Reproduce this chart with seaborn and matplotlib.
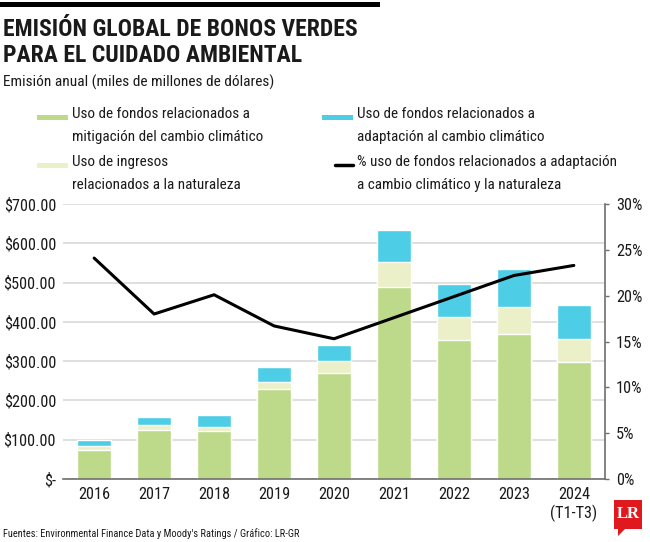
import matplotlib
matplotlib.use("Agg")
import matplotlib.pyplot as plt
from matplotlib import font_manager
from matplotlib.font_manager import FontProperties
from matplotlib.patches import Rectangle, Polygon
from matplotlib.lines import Line2D
import seaborn as sns
import pandas as pd

# data (miles de millones USD)
years = ["2016", "2017", "2018", "2019", "2020", "2021", "2022", "2023", "2024\n(T1-T3)"]
mitigacion = [73, 125, 122, 229, 270, 488, 355, 368, 299]
naturaleza = [10, 12, 11, 19, 30, 65, 58, 69, 58]
adaptacion = [17, 22, 30, 36, 40, 80, 84, 98, 86]
pct_adapt_nat = [24.1, 18.0, 20.1, 16.7, 15.3, 17.6, 19.9, 22.2, 23.3]

left_ticks = [0, 100, 200, 300, 400, 500, 600, 700]
left_labels = ["$-", "$100.00", "$200.00", "$300.00", "$400.00", "$500.00", "$600.00", "$700.00"]
right_ticks = [0, 5, 10, 15, 20, 25, 30]

GREEN = "#bdd98a"
CREAM = "#ebf0c9"
BLUE = "#4ecde6"
GRID = "#d9d9d9"
SPINE = "#6e6e6e"
TEXT = "#1a1a1a"

sns.set_theme(style="white")

# look for a narrow / condensed face, the reference uses a condensed sans
condensed = ("condensed", "semi-condensed", "extra-condensed", "ultra-condensed")
fam, stretch = None, "normal"
pref = ["Liberation Sans Narrow", "Roboto Condensed", "Open Sans Condensed", "Open Sans",
        "Noto Sans", "DejaVu Sans", "Roboto"]
cands = [f for f in font_manager.fontManager.ttflist
         if f.stretch in condensed or (isinstance(f.stretch, int) and f.stretch < 500)
         or "Narrow" in f.name or "Condensed" in f.name]
for p in pref:
    hit = [f for f in cands if f.name == p]
    if hit:
        fam, stretch = p, hit[0].stretch
        break
if fam is None and cands:
    fam, stretch = cands[0].name, cands[0].stretch
if fam is None:
    fam = "Liberation Sans"
plt.rcParams["font.family"] = [fam, "DejaVu Sans"]
plt.rcParams["font.stretch"] = stretch

fig = plt.figure(figsize=(6.5, 5.42), dpi=100)
renderer = fig.canvas.get_renderer()


def fit(s, target_px, weight="normal", cap=30):
    # font size that makes string s about target_px wide
    prop = FontProperties(family=[fam, "DejaVu Sans"], stretch=stretch, weight=weight, size=10)
    w, _, _ = renderer.get_text_width_height_descent(s, prop, ismath=False)
    return min(cap, 10 * target_px / w)


fs_title = fit("EMISIÓN GLOBAL DE BONOS VERDES", 378, "bold", cap=17)
fs_sub = fit("Emisión anual (miles de millones de dólares)", 270, cap=13)
fs_leg = fit("% uso de fondos relacionados a adaptación", 258, cap=13)
fs_tick = fit("$700.00", 52, cap=13.5)
fs_src = fit("Fuentes: Environmental Finance Data y Moody's Ratings / Gráfico: LR-GR", 294, cap=9.5)

df = pd.DataFrame({"year": years, "mit": mitigacion, "nat": naturaleza, "ada": adaptacion})
df["mit_nat"] = df["mit"] + df["nat"]
df["total"] = df["mit_nat"] + df["ada"]

ax = fig.add_axes([0.0969, 0.1162, 0.8339, 0.5074])

# stacked bars: tallest first, the smaller parts painted over it
sns.barplot(data=df, x="year", y="total", color=BLUE, width=0.57, saturation=1, ax=ax, zorder=2)
sns.barplot(data=df, x="year", y="mit_nat", color=CREAM, width=0.57, saturation=1, ax=ax, zorder=2)
sns.barplot(data=df, x="year", y="mit", color=GREEN, width=0.57, saturation=1, ax=ax, zorder=2)

ax.set_ylim(0, 700)
ax.set_xlim(-0.52, 8.52)
ax.set_yticks(left_ticks)
ax.set_yticklabels(left_labels)
ax.yaxis.grid(True, color=GRID, lw=1.2, zorder=0)
ax.set_axisbelow(True)
ax.set_xlabel("")
ax.set_ylabel("")
for s in ["top", "left", "right"]:
    ax.spines[s].set_visible(False)
ax.spines["bottom"].set_color(SPINE)
ax.spines["bottom"].set_linewidth(1.2)
ax.tick_params(axis="y", length=0, pad=5, labelsize=fs_tick, labelcolor=TEXT)
ax.tick_params(axis="x", length=0, pad=6, labelsize=fs_tick, labelcolor=TEXT)
for lbl in ax.get_xticklabels():
    lbl.set_linespacing(1.15)

ax2 = ax.twinx()
sns.lineplot(x=list(range(len(years))), y=pct_adapt_nat, color="black", lw=2.2, ax=ax2, zorder=3)
ax2.set_ylim(0, 30)
ax2.set_yticks(right_ticks)
ax2.set_yticklabels([f"{t}%" for t in right_ticks])
for s in ["top", "left", "bottom"]:
    ax2.spines[s].set_visible(False)
ax2.spines["right"].set_color(SPINE)
ax2.spines["right"].set_linewidth(1.2)
ax2.tick_params(axis="y", direction="out", length=3, width=1, color=SPINE, pad=5,
                labelsize=fs_tick, labelcolor=TEXT)
ax2.set_xlim(-0.52, 8.52)

# header
fig.add_artist(Rectangle((0, 1 - 7 / 542), 380 / 650, 5 / 542, transform=fig.transFigure,
                         color="black", lw=0))
fig.text(3 / 650, 1 - 30 / 542, "EMISIÓN GLOBAL DE BONOS VERDES", fontsize=fs_title,
         fontweight="bold", color=TEXT, va="center")
fig.text(3 / 650, 1 - 56 / 542, "PARA EL CUIDADO AMBIENTAL", fontsize=fs_title,
         fontweight="bold", color=TEXT, va="center")
fig.text(3 / 650, 1 - 82 / 542, "Emisión anual (miles de millones de dólares)", fontsize=fs_sub,
         color=TEXT, va="center")


# legend in two columns, each entry a swatch and two lines of text
def legend_item(x0, x1, y, kind, color, line1, line2):
    if kind == "patch":
        fig.add_artist(Rectangle((x0 / 650, 1 - (y + 2.5) / 542), (x1 - x0) / 650, 5 / 542,
                                 transform=fig.transFigure, color=color, lw=0))
    else:
        fig.add_artist(Line2D([x0 / 650, x1 / 650], [1 - y / 542, 1 - y / 542],
                              transform=fig.transFigure, color=color, lw=2.5))
    fig.text((x1 + 4) / 650, 1 - (y - 3) / 542, line1, fontsize=fs_leg, color=TEXT, va="center")
    fig.text((x1 + 4) / 650, 1 - (y + 20) / 542, line2, fontsize=fs_leg, color=TEXT, va="center")


legend_item(37, 68, 117, "patch", GREEN,
            "Uso de fondos relacionados a", "mitigación del cambio climático")
legend_item(37, 68, 165, "patch", CREAM,
            "Uso de ingresos", "relacionados a la naturaleza")
legend_item(322, 353, 117, "patch", BLUE,
            "Uso de fondos relacionados a", "adaptación al cambio climático")
legend_item(335, 353, 165, "line", "black",
            "% uso de fondos relacionados a adaptación", "a cambio climático y la naturaleza")

fig.text(3 / 650, 1 - 534 / 542,
         "Fuentes: Environmental Finance Data y Moody's Ratings / Gráfico: LR-GR",
         fontsize=fs_src, color=TEXT, va="center")

# LR logo
fig.add_artist(Rectangle((614 / 650, 1 - 529 / 542), 28 / 650, 29 / 542,
                         transform=fig.transFigure, color="#e0191f", lw=0))
fig.add_artist(Polygon([[618 / 650, 1 - 528 / 542], [626 / 650, 1 - 528 / 542],
                        [618 / 650, 1 - 536 / 542]], closed=True,
                       transform=fig.transFigure, color="#e0191f", lw=0))
fig.text(628 / 650, 1 - 514 / 542, "LR", fontsize=12, fontweight="bold",
         family="Liberation Serif", color="white", ha="center", va="center")

fig.savefig("out.png", dpi=100)
